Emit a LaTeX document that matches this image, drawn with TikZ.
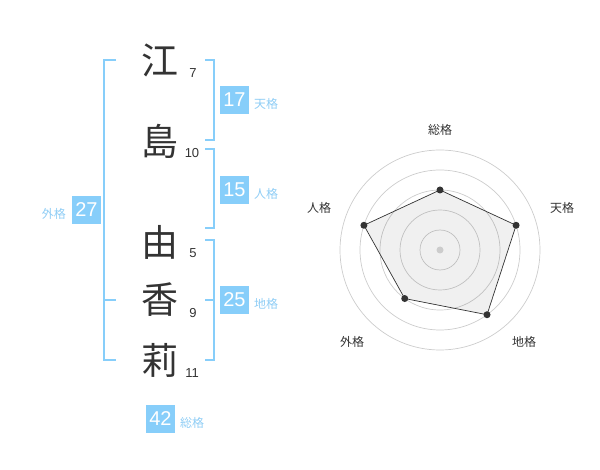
\documentclass[tikz,border=0pt]{standalone}
\usepackage{fontspec}
\setmainfont{Liberation Sans}
\newfontfamily\cjk{Noto Sans CJK JP}
\definecolor{brk}{HTML}{87CEFA}
\definecolor{lbl}{HTML}{8FCDF5}
\definecolor{ink}{HTML}{333333}
\definecolor{gridc}{HTML}{CCCCCC}
\begin{document}
\begin{tikzpicture}[x=1pt,y=-1pt,
  kanji/.style={font=\cjk\fontsize{37}{37}\selectfont, text=ink, inner sep=0},
  strokes/.style={font=\fontsize{13}{13}\selectfont, text=ink, inner sep=0},
  numbox/.style={fill=brk, text=white, minimum width=29, minimum height=28, inner sep=0, font=\fontsize{20}{20}\selectfont},
  kaku/.style={font=\cjk\fontsize{12}{12}\selectfont, text=lbl, inner sep=0},
  brline/.style={draw=brk, line width=2},
  ring/.style={draw=gridc, line width=0.7},
  axislbl/.style={font=\cjk\fontsize{12}{12}\selectfont, text=ink, inner sep=0},
  dot/.style={fill=ink, draw=none},
]
\useasboundingbox (0,0) rectangle (600,470);
% kanji
\node[kanji] (k1) at (160,60) {江};
\node[kanji] (k2) at (160,141) {島};
\node[kanji] (k3) at (160,242) {由};
\node[kanji] (k4) at (160,300) {香};
\node[kanji] (k5) at (160,360) {莉};
% strokes
\node[strokes] (s1) at (193,73) {7};
\node[strokes] (s2) at (192,153) {10};
\node[strokes] (s3) at (193,253) {5};
\node[strokes] (s4) at (193,313) {9};
\node[strokes] (s5) at (192,373) {11};
% brackets
\draw[brline] (205,60) -- (214,60) -- (214,140) -- (205,140);
\draw[brline] (205,149) -- (214,149) -- (214,228) -- (205,228);
\draw[brline] (205,240) -- (214,240) -- (214,360) -- (205,360);
\draw[brline] (205,300) -- (214,300);
\draw[brline] (116,60) -- (104,60) -- (104,360) -- (116,360);
\draw[brline] (104,300) -- (116,300);
% boxes
\node[numbox] (b1) at (234.5,100) {17};
\node[kaku, anchor=west] (l1) at (254,104) {天格};
\node[numbox] (b2) at (234.5,190) {15};
\node[kaku, anchor=west] (l2) at (254,194) {人格};
\node[numbox] (b3) at (234.5,300) {25};
\node[kaku, anchor=west] (l3) at (254,304) {地格};
\node[numbox] (b4) at (86.5,210) {27};
\node[kaku, anchor=east] (l4) at (66,214) {外格};
\node[numbox] (b5) at (160.5,419) {42};
\node[kaku, anchor=west] (l5) at (180,423) {総格};
% radar
\begin{scope}[shift={(440,250)}]
  \foreach \r in {20,40,60,80,100} \draw[ring] (0,0) circle (\r);
  \coordinate (p1) at (-90:60);
  \coordinate (p2) at (-18:80);
  \coordinate (p3) at (54:80);
  \coordinate (p4) at (126:60);
  \coordinate (p5) at (198:80);
  \fill[black, opacity=0.06] (p1) -- (p2) -- (p3) -- (p4) -- (p5) -- cycle;
  \draw[ink, line width=0.7] (p1) -- (p2) -- (p3) -- (p4) -- (p5) -- cycle;
  \foreach \p in {p1,p2,p3,p4,p5} \fill[dot] (\p) circle (3.5);
  \fill[gridc] (0,0) circle (3.5);
  \node[axislbl] (a1) at (0,-120) {総格};
  \node[axislbl] (a2) at (122,-42) {天格};
  \node[axislbl] (a3) at (84,92) {地格};
  \node[axislbl] (a4) at (-88,92) {外格};
  \node[axislbl] (a5) at (-121,-42) {人格};
\end{scope}
\end{tikzpicture}
\end{document}
